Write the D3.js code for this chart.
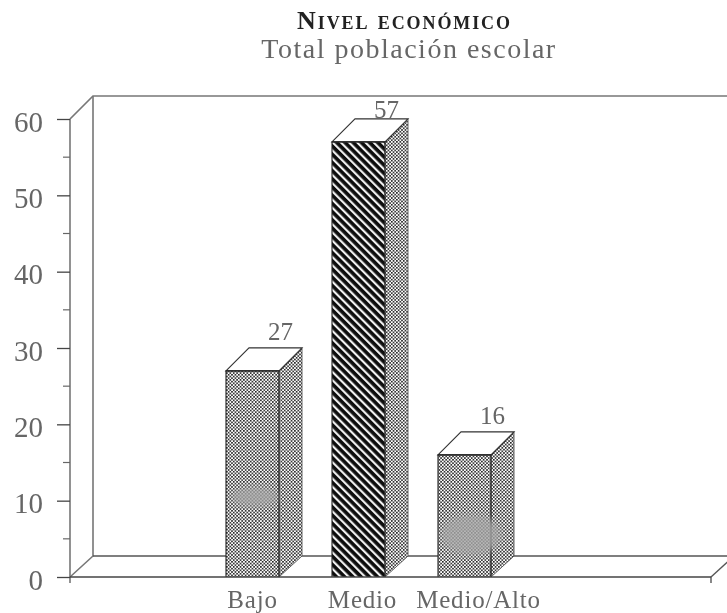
<!DOCTYPE html>
<html>
<head>
<meta charset="utf-8">
<script src="https://d3js.org/d3.v7.min.js"></script>
<style>
  html, body { margin: 0; padding: 0; background: #fff; }
  svg { display: block; }
  text { font-family: "Liberation Serif", serif; fill: #666; }
</style>
</head>
<body>
<div id="chart"></div>
<script>
const titleLines = ["Nivel económico", "Total población escolar"];
const categories = ["Bajo", "Medio", "Medio/Alto"];
const values = [27, 57, 16];
const yTicks = [0, 10, 20, 30, 40, 50, 60];
const yMinorTicks = [5, 15, 25, 35, 45, 55];

document.addEventListener("DOMContentLoaded", function() {
    const width = 727, height = 613;
    const svg = d3.select("#chart").append("svg").attr("width", width).attr("height", height);
    const depth = 23, floorDepth = 21;
    const lineColor = "#555";

    const y = d3.scaleLinear().domain([0, 60]).range([577, 119]);
    const x = d3.scaleBand().domain(categories).range([226, 491]).paddingInner(0.5);
    // etiquetas no quedan centradas bajo las barras en el original
    const xLabel = d3.scaleOrdinal().domain(categories).range([252, 362, 478]);
    const floorLeft = 70, floorRight = 711;

    const defs = svg.append("defs");
    const dots = defs.append("pattern").attr("id", "dots").attr("patternUnits", "userSpaceOnUse")
        .attr("width", 3.4).attr("height", 3.4);
    dots.append("rect").attr("width", 3.4).attr("height", 3.4).attr("fill", "#fff");
    dots.append("rect").attr("width", 1.6).attr("height", 1.6).attr("fill", "#222");
    dots.append("rect").attr("x", 1.7).attr("y", 1.7).attr("width", 1.6).attr("height", 1.6).attr("fill", "#222");

    const stripes = defs.append("pattern").attr("id", "stripes").attr("patternUnits", "userSpaceOnUse")
        .attr("width", 5.8).attr("height", 5.8).attr("patternTransform", "rotate(45)");
    stripes.append("rect").attr("width", 5.8).attr("height", 5.8).attr("fill", "#0a0a0a");
    stripes.append("rect").attr("y", 3.6).attr("width", 5.8).attr("height", 2.2).attr("fill", "#f2f2f2");

    defs.append("filter").attr("id", "smudge").append("feGaussianBlur").attr("stdDeviation", 3);
    defs.append("filter").attr("id", "scan").append("feGaussianBlur").attr("stdDeviation", 0.45);

    const chartArea = svg.append("g").attr("filter", "url(#scan)");

    // paredes y piso
    const frame = chartArea.append("g").attr("fill", "none").attr("stroke", lineColor).attr("stroke-width", 1.4);
    frame.append("path").attr("d", `M${floorLeft},${y(60)} L${floorLeft + depth},${y(60) - depth} H${width}`).attr("stroke", "#777").attr("stroke-width", 1.7);
    frame.append("path").attr("d", `M${floorLeft},${y(0)} L${floorLeft + depth},${y(0) - floorDepth} V${y(60) - depth}`).attr("stroke", "#777").attr("stroke-width", 1.6);
    frame.append("path").attr("d", `M${floorLeft + depth},${y(0) - floorDepth} H${width}`);
    frame.append("path").attr("d", `M${floorRight},${y(0)} L${floorRight + depth},${y(0) - floorDepth}`);
    frame.append("path").attr("d", `M${floorRight},${y(0)} V${y(0) + 6}`);

    // barras
    const barData = categories.map((c, i) => ({ c: c, v: values[i] }));
    const bars = chartArea.selectAll(".bar").data(barData)
        .enter().append("g").attr("class", "bar");
    const bw = x.bandwidth();

    bars.append("rect")
        .attr("x", d => x(d.c)).attr("y", d => y(d.v))
        .attr("width", bw).attr("height", d => y(0) - y(d.v))
        .attr("fill", d => d.c === "Medio" ? "url(#stripes)" : "url(#dots)");

    bars.append("path")
        .attr("d", d => `M${x(d.c) + bw},${y(d.v)} l${depth},${-depth} V${y(0) - floorDepth} L${x(d.c) + bw},${y(0)} Z`)
        .attr("fill", "url(#dots)").attr("stroke", "#555").attr("stroke-width", 0.9);

    bars.append("path")
        .attr("d", d => `M${x(d.c)},${y(d.v)} l${depth},${-depth} h${bw} l${-depth},${depth} Z`)
        .attr("fill", "#fff").attr("stroke", "#333").attr("stroke-width", 1.1);

    // borde frontal de cada barra
    bars.append("path")
        .attr("d", d => `M${x(d.c)},${y(0)} V${y(d.v)} H${x(d.c) + bw} V${y(0)}`)
        .attr("fill", "none").attr("stroke", "#222").attr("stroke-width", 1.1);

    // manchas grises del escaneo
    const smudges = [
        { c: "Bajo", v: 10.5, dx: 2, rx: 23, ry: 10 },
        { c: "Medio/Alto", v: 5.5, dx: 7, rx: 30, ry: 20 }
    ];
    chartArea.append("g").attr("filter", "url(#smudge)").attr("opacity", 0.8).selectAll("ellipse").data(smudges)
        .enter().append("ellipse")
        .attr("cx", d => x(d.c) + bw / 2 + d.dx).attr("cy", d => y(d.v))
        .attr("rx", d => d.rx).attr("ry", d => d.ry)
        .attr("fill", "#a6a6a6");

    // eje y
    const yAxis = d3.axisLeft(y).tickValues(yTicks).tickSize(13).tickPadding(14).tickFormat(d3.format("d"));
    const yG = chartArea.append("g").attr("transform", `translate(${floorLeft},0)`).call(yAxis);
    yG.select(".domain").attr("stroke", "#777").attr("stroke-width", 1.6).attr("d", `M0,${y(60)} V${y(0) + 6}`);
    yG.selectAll(".tick line").attr("stroke", "#444").attr("stroke-width", 1.3);
    yG.selectAll(".tick text").style("font-size", "29px").attr("fill", "#666").attr("dy", "0.42em");

    chartArea.append("g").selectAll("line").data(yMinorTicks).enter().append("line")
        .attr("x1", floorLeft - 7).attr("x2", floorLeft)
        .attr("y1", d => y(d)).attr("y2", d => y(d))
        .attr("stroke", "#666").attr("stroke-width", 1.2);

    // eje x
    const xAxis = d3.axisBottom(xLabel).tickSize(0).tickPadding(0);
    const xG = chartArea.append("g").attr("transform", `translate(0,${y(0)})`).call(xAxis);
    xG.select(".domain").attr("stroke", "#444").attr("stroke-width", 1.4).attr("d", `M${floorLeft},0 H${floorRight}`);
    xG.selectAll(".tick text").attr("y", 31).attr("dy", 0).style("font-size", "25px").attr("fill", "#6a6a6a").style("letter-spacing", "0.8px");

    // valores
    chartArea.selectAll(".valor").data(barData)
        .enter().append("text").attr("class", "valor")
        .attr("x", d => x(d.c) + bw / 2 + 28).attr("y", d => y(d.v) - depth - (d.v > 50 ? 1 : 8))
        .attr("text-anchor", "middle").style("font-size", "25px").text(d => d.v);

    // titulo
    chartArea.append("text").attr("x", 404.5).attr("y", 29).attr("text-anchor", "middle")
        .style("font-size", "26px").style("font-weight", "bold").style("font-variant", "small-caps").style("fill", "#222").style("letter-spacing", "1.9px")
        .text(titleLines[0]);
    chartArea.append("text").attr("x", 409).attr("y", 58).attr("text-anchor", "middle")
        .style("font-size", "28px").style("letter-spacing", "1.5px").text(titleLines[1]);
});
</script>
</body>
</html>
